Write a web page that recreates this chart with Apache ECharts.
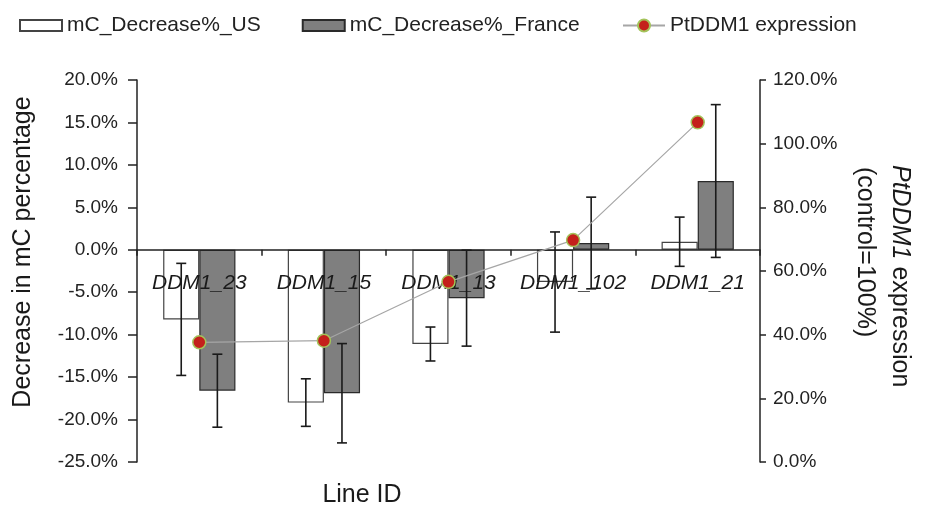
<!DOCTYPE html>
<html>
<head>
<meta charset="utf-8">
<script src="https://cdn.jsdelivr.net/npm/echarts@6/dist/echarts.min.js"></script>
<style>html,body{margin:0;padding:0;background:#fff;}#c{width:925px;height:507px;}</style>
</head>
<body>
<div id="c"></div>
<script>
var categories = ['DDM1_23', 'DDM1_15', 'DDM1_13', 'DDM1_102', 'DDM1_21'];
var usValues = [-8.2, -18.0, -11.1, -3.8, 0.95];
var usErrors = [6.6, 2.8, 2.0, 5.9, 2.9];
var franceValues = [-16.6, -16.9, -5.7, 0.8, 8.1];
var franceErrors = [4.3, 5.85, 5.65, 5.4, 9.0];
var expressionValues = [37.6, 38.1, 56.6, 69.7, 106.7];
var leftTicks = {min: -25, max: 20, interval: 5};
var rightTicks = {min: 0, max: 120, interval: 20};

var FONT = 'Liberation Sans, Arial, Helvetica, sans-serif';
var BAR_FRAC = 0.29;
var GRID = {left: 137, right: 165, top: 80, bottom: 45};
var gridH = 507 - GRID.top - GRID.bottom;
var zeroOffset = -(0 - leftTicks.min) / (leftTicks.max - leftTicks.min) * gridH;

function errData(vals, errs) {
  return vals.map(function (v, i) { return [i, v - errs[i], v + errs[i]]; });
}
function errRender(side) {
  return function (params, api) {
    var idx = api.value(0);
    var lo = api.coord([idx, api.value(1)]);
    var hi = api.coord([idx, api.value(2)]);
    var bw = api.size([1, 0])[0] * BAR_FRAC;
    var x = lo[0] + side * bw / 2;
    var cap = 5;
    var st = {stroke: '#1a1a1a', lineWidth: 1.6};
    return {
      type: 'group',
      children: [
        {type: 'line', shape: {x1: x, y1: lo[1], x2: x, y2: hi[1]}, style: st},
        {type: 'line', shape: {x1: x - cap, y1: lo[1], x2: x + cap, y2: lo[1]}, style: st},
        {type: 'line', shape: {x1: x - cap, y1: hi[1], x2: x + cap, y2: hi[1]}, style: st}
      ]
    };
  };
}

var chart = echarts.init(document.getElementById('c'));
chart.setOption({
  animation: false,
  textStyle: {fontFamily: FONT},
  legend: [
    {
      left: 19, top: 15, padding: 0,
      icon: 'rect',
      itemWidth: 42, itemHeight: 11, itemGap: 41,
      textStyle: {fontSize: 21, color: '#222', fontFamily: FONT},
      data: ['mC_Decrease%_US', 'mC_Decrease%_France']
    },
    {
      left: 622, top: 15, padding: 0,
      itemWidth: 42, itemHeight: 15,
      textStyle: {fontSize: 21, color: '#222', fontFamily: FONT},
      data: ['PtDDM1 expression']
    }
  ],
  grid: GRID,
  xAxis: {
    type: 'category',
    data: categories,
    z: 3,
    offset: zeroOffset,
    axisLine: {onZero: false, lineStyle: {color: '#222', width: 1.5}},
    axisTick: {show: true, length: 6, lineStyle: {color: '#222', width: 1.5}},
    axisLabel: {interval: 0, fontSize: 21, fontStyle: 'italic', color: '#1a1a1a', margin: 23, fontFamily: FONT}
  },
  yAxis: [
    {
      type: 'value', min: leftTicks.min, max: leftTicks.max, interval: leftTicks.interval,
      axisLine: {show: true, lineStyle: {color: '#222', width: 1.5}},
      axisTick: {show: true, length: 9, lineStyle: {color: '#222', width: 1.5}},
      splitLine: {show: false},
      axisLabel: {fontSize: 19, color: '#222', margin: 19, fontFamily: FONT,
        formatter: function (v) { return v.toFixed(1) + '%'; }}
    },
    {
      type: 'value', min: rightTicks.min, max: rightTicks.max, interval: rightTicks.interval,
      position: 'right',
      axisLine: {show: true, lineStyle: {color: '#222', width: 1.5}},
      axisTick: {show: true, length: 6, lineStyle: {color: '#222', width: 1.5}},
      splitLine: {show: false},
      axisLabel: {fontSize: 19, color: '#222', margin: 13, fontFamily: FONT,
        formatter: function (v) { return v.toFixed(1) + '%'; }}
    }
  ],
  series: [
    {
      name: 'mC_Decrease%_US', type: 'bar', yAxisIndex: 0,
      data: usValues, barWidth: (BAR_FRAC * 100) + '%', barGap: '0%',
      itemStyle: {color: '#ffffff', borderColor: '#444', borderWidth: 1.2}, z: 2
    },
    {
      name: 'mC_Decrease%_France', type: 'bar', yAxisIndex: 0,
      data: franceValues, barWidth: (BAR_FRAC * 100) + '%', barGap: '0%',
      itemStyle: {color: '#7f7f7f', borderColor: '#2a2a2a', borderWidth: 1.2}, z: 2
    },
    {
      type: 'custom', yAxisIndex: 0, data: errData(usValues, usErrors),
      renderItem: errRender(-1), z: 4, silent: true
    },
    {
      type: 'custom', yAxisIndex: 0, data: errData(franceValues, franceErrors),
      renderItem: errRender(1), z: 4, silent: true
    },
    {
      name: 'PtDDM1 expression', type: 'line', yAxisIndex: 1,
      data: expressionValues,
      symbol: 'circle', symbolSize: 13,
      lineStyle: {color: '#a6a6a6', width: 1.2},
      itemStyle: {color: '#c4201b', borderColor: '#a4c35a', borderWidth: 1.5},
      z: 6
    }
  ],
  graphic: [
    {type: 'text', x: 23, y: 252, rotation: Math.PI / 2,
      style: {text: 'Decrease in mC percentage', fontSize: 25, fill: '#1a1a1a', fontFamily: FONT,
        textAlign: 'center', textVerticalAlign: 'middle'}},
    {type: 'text', x: 362, y: 495,
      style: {text: 'Line ID', fontSize: 25, fill: '#1a1a1a', fontFamily: FONT,
        textAlign: 'center', textVerticalAlign: 'middle'}},
    {type: 'text', x: 900, y: 165, rotation: -Math.PI / 2,
      style: {text: '{i|PtDDM1} expression', fontSize: 25, fill: '#1a1a1a', fontFamily: FONT,
        textAlign: 'left', textVerticalAlign: 'middle',
        rich: {i: {fontStyle: 'italic', fontSize: 25, fontFamily: FONT, fill: '#1a1a1a'}}}},
    {type: 'text', x: 865, y: 167, rotation: -Math.PI / 2,
      style: {text: '(control=100%)', fontSize: 25, fill: '#1a1a1a', fontFamily: FONT,
        textAlign: 'left', textVerticalAlign: 'middle'}}
  ]
});
</script>
</body>
</html>
